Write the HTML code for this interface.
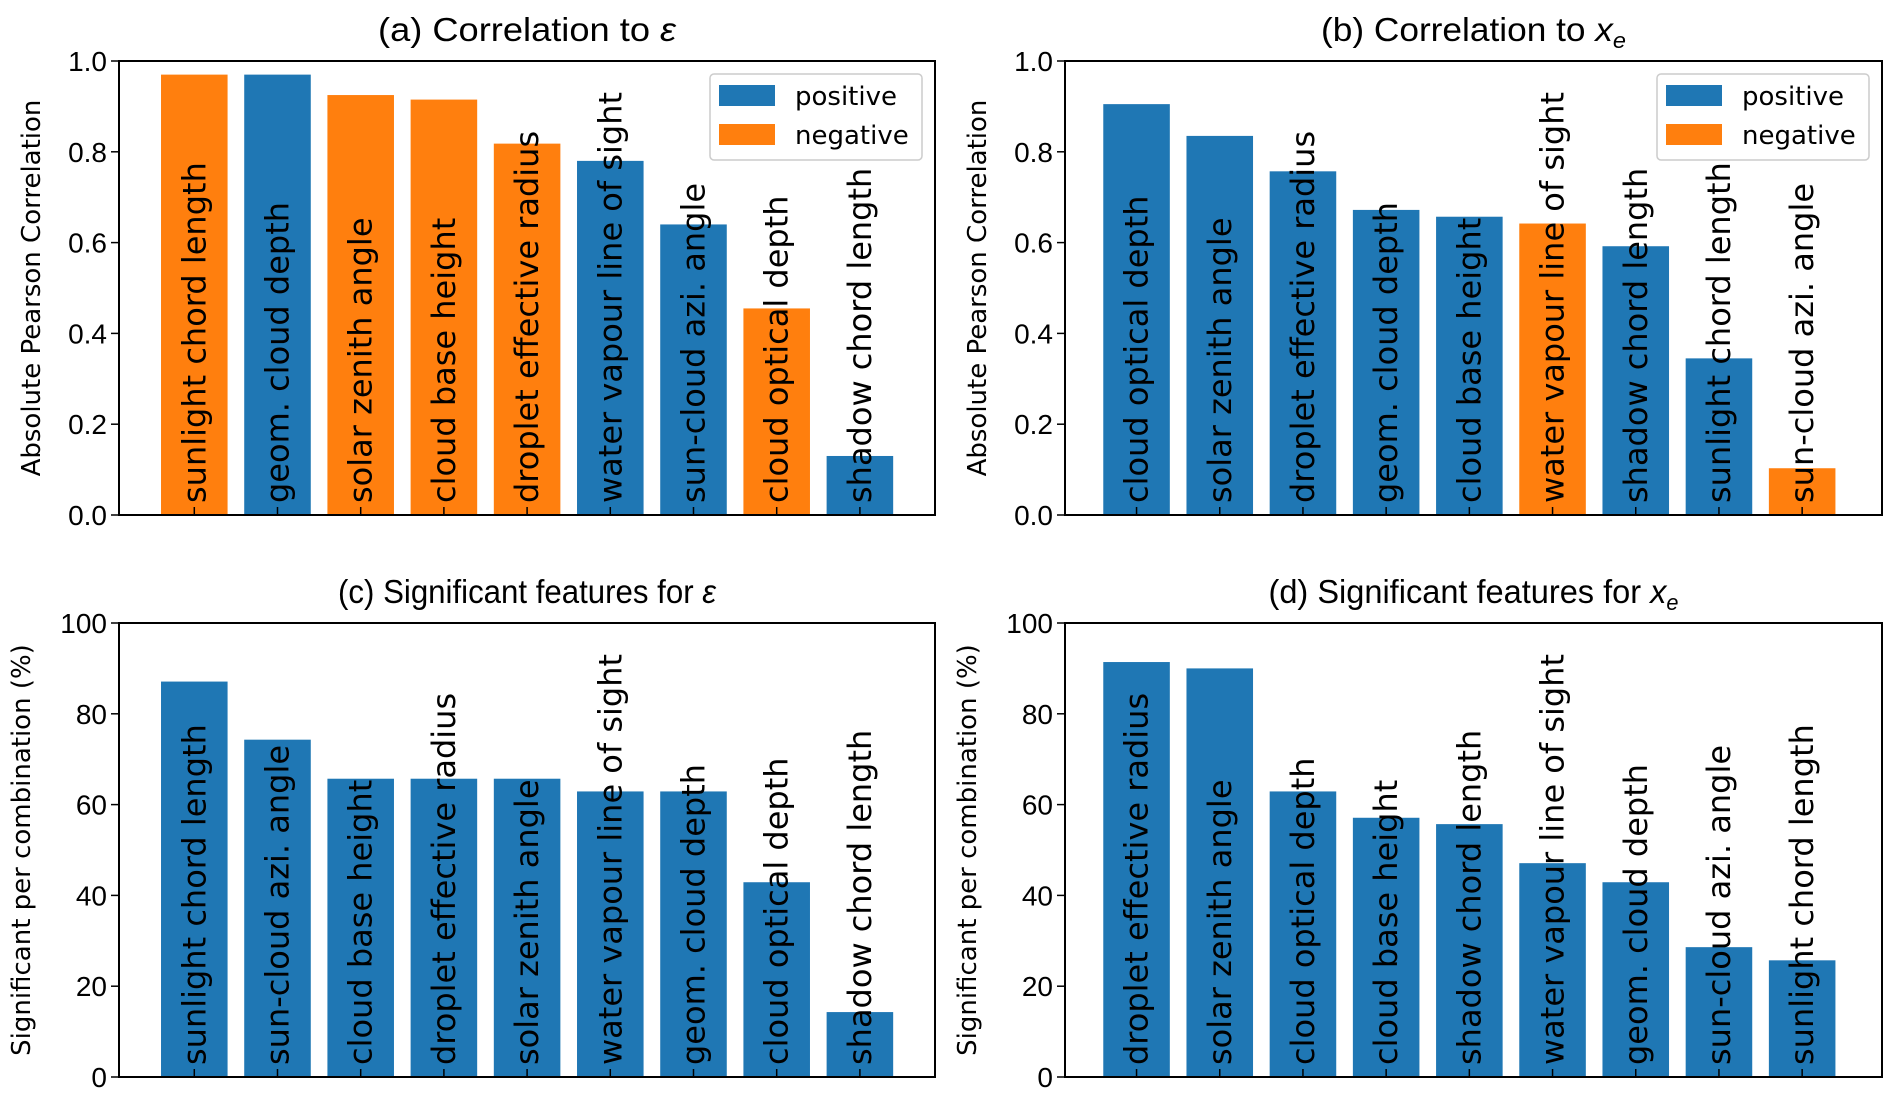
<!DOCTYPE html>
<html><head><meta charset="utf-8"><style>
html,body{margin:0;padding:0;background:#fff;}
svg{display:block;font-family:"DejaVu Sans","Liberation Sans",sans-serif;}
</style></head><body>
<svg id="fig" width="1892" height="1102" viewBox="0 0 1892 1102" xmlns="http://www.w3.org/2000/svg"></svg>
<script>
const catsA = ["sunlight chord length","geom. cloud depth","solar zenith angle","cloud base height","droplet effective radius","water vapour line of sight","sun-cloud azi. angle","cloud optical depth","shadow chord length"];
const valsA = [0.97,0.97,0.925,0.915,0.818,0.78,0.64,0.455,0.13];
const signA = ["neg","pos","neg","neg","neg","pos","pos","neg","pos"];
const catsB = ["cloud optical depth","solar zenith angle","droplet effective radius","geom. cloud depth","cloud base height","water vapour line of sight","shadow chord length","sunlight chord length","sun-cloud azi. angle"];
const valsB = [0.905,0.835,0.757,0.672,0.657,0.642,0.592,0.345,0.103];
const signB = ["pos","pos","pos","pos","pos","neg","pos","pos","neg"];
const catsC = ["sunlight chord length","sun-cloud azi. angle","cloud base height","droplet effective radius","solar zenith angle","water vapour line of sight","geom. cloud depth","cloud optical depth","shadow chord length"];
const valsC = [87.1,74.3,65.7,65.7,65.7,62.9,62.9,42.9,14.3];
const catsD = ["droplet effective radius","solar zenith angle","cloud optical depth","cloud base height","shadow chord length","water vapour line of sight","geom. cloud depth","sun-cloud azi. angle","sunlight chord length"];
const valsD = [91.4,90.0,62.9,57.1,55.7,47.1,42.9,28.6,25.7];
const ticksCorr = ["0.0","0.2","0.4","0.6","0.8","1.0"];
const ticksPct = ["0","20","40","60","80","100"];

const NS="http://www.w3.org/2000/svg";
const svg=document.getElementById('fig');
const COL={pos:"#1f77b4",neg:"#ff7f0e"};
function mk(tag,attrs,parent){const e=document.createElementNS(NS,tag);for(const k in attrs)e.setAttribute(k,attrs[k]);(parent||svg).appendChild(e);return e;}

function panel(id,L,R,T,B,xmin,ymax,ticks,cats,vals,signs,title,titleLen,ylabel,ylabX,legend){
  const g=mk('g',{});
  
  
  const n=cats.length;
  const xmax=xmin+(R-L)/83.2;
  const xs=v=>L+(v-xmin)/(xmax-xmin)*(R-L);
  const ys=v=>B-(v/ymax)*(B-T);
  const bw=xs(0.8)-xs(0);
  for(let i=0;i<n;i++){
    const r=mk('rect',{x:xs(i-0.4),y:ys(vals[i]),width:bw,height:B-ys(vals[i]),fill:COL[signs?signs[i]:'pos']},g);
    
    
    const tk=mk('line',{x1:xs(i),x2:xs(i),y1:B,y2:B-8,stroke:'#000','stroke-width':1.5},g);
    
    
    const t=mk('text',{x:0,y:0,'font-size':32,fill:'#000',transform:`translate(${xs(i)+11},${B-12}) rotate(-90)`},g);
    t.textContent=cats[i];
    
    
  }
  for(let j=0;j<ticks.length;j++){
    const v=ymax*j/(ticks.length-1);
    mk('line',{x1:L-8,x2:L,y1:ys(v),y2:ys(v),stroke:'#000','stroke-width':1.5},g);
    const t=mk('text',{x:L-12,y:ys(v)+10,'font-size':28,'text-anchor':'end',fill:'#000','font-family':'Liberation Sans, sans-serif'},g);
    t.textContent=ticks[j];
    
    
  }
  const fr=mk('rect',{x:L,y:T,width:R-L,height:B-T,fill:'none',stroke:'#000','stroke-width':2},g);
  
  
  const tt=mk('text',{x:(L+R)/2-titleLen/2,y:T-20,'font-size':33,fill:'#000','font-family':'Liberation Sans, sans-serif',textLength:titleLen,lengthAdjust:'spacingAndGlyphs'},g);
  tt.innerHTML=title;
  
  
  const yl=mk('text',{x:0,y:0,'font-size':26,'text-anchor':'middle',fill:'#000',transform:`translate(${ylabX},${(T+B)/2}) rotate(-90)`},g);
  yl.textContent=ylabel;
  
  
  if(legend){
    const lx=R-225, ly=T+13;
    const lg=mk('g',{},g);
    
    
    mk('rect',{x:lx,y:ly,width:212,height:86,rx:4,fill:'#fff',stroke:'#ccc','stroke-width':1.5},lg);
    [['pos','positive'],['neg','negative']].forEach((p,k)=>{
      const e=mk('g',{},lg);
      
      
      mk('rect',{x:lx+9,y:ly+11+k*39,width:56,height:21,fill:COL[p[0]]},e);
      const t=mk('text',{x:lx+85,y:ly+31+k*39,'font-size':26,fill:'#000'},e);
      t.textContent=p[1];
    });
  }
}
panel('a',119,935,61,515,-0.905,1.0,ticksCorr,catsA,valsA,signA,'(a) Correlation to <tspan font-style="italic">ε</tspan>',298,'Absolute Pearson Correlation',40,true);
panel('b',1065,1882,61,515,-0.86,1.0,ticksCorr,catsB,valsB,signB,'(b) Correlation to <tspan font-style="italic">x</tspan><tspan font-style="italic" font-size="22" dy="7">e</tspan>',305,'Absolute Pearson Correlation',986,true);
panel('c',119,935,623,1077,-0.905,100,ticksPct,catsC,valsC,null,'(c) Significant features for <tspan font-style="italic">ε</tspan>',378,'Significant per combination (%)',30,false);
panel('d',1065,1882,623,1077,-0.86,100,ticksPct,catsD,valsD,null,'(d) Significant features for <tspan font-style="italic">x</tspan><tspan font-style="italic" font-size="22" dy="7">e</tspan>',410,'Significant per combination (%)',976,false);
</script>
</body></html>
